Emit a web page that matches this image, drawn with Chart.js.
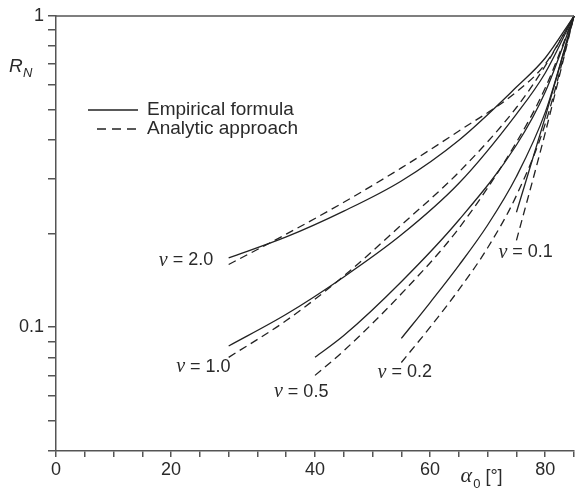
<!DOCTYPE html>
<html>
<head>
<meta charset="utf-8">
<script src="https://cdn.jsdelivr.net/npm/chart.js@4"></script>
<style>
  html, body { margin: 0; padding: 0; background: #fff; }
  canvas { display: block; }
</style>
</head>
<body>
<canvas id="myChart" width="576" height="488"></canvas>
<script>
// incidence angles (deg) per curve group
const alphaA = [30, 40, 50, 60, 70, 80, 85, 90];   // v = 2.0, v = 1.0
const alphaB = [45, 50, 60, 70, 80, 85, 90];       // v = 0.5
const alphaC = [60, 65, 70, 75, 80, 85, 90];       // v = 0.2
const alphaD = [80, 85, 90];                       // v = 0.1

// R_N, empirical formula (solid) and analytic approach (dashed)
const emp20 = [0.167, 0.195, 0.236, 0.295, 0.399, 0.591, 0.733, 1];
const ana20 = [0.159, 0.199, 0.252, 0.325, 0.427, 0.570, 0.701, 1];
const emp10 = [0.087, 0.110, 0.145, 0.198, 0.290, 0.484, 0.656, 1];
const ana10 = [0.080, 0.105, 0.146, 0.213, 0.315, 0.508, 0.691, 1];
const emp05 = [0.080, 0.094, 0.140, 0.221, 0.385, 0.570, 1];
const ana05 = [0.070, 0.084, 0.128, 0.208, 0.393, 0.587, 1];
const emp02 = [0.092, 0.120, 0.158, 0.213, 0.305, 0.490, 1];
const ana02 = [0.077, 0.100, 0.132, 0.180, 0.265, 0.450, 1];
const emp01 = [0.234, 0.473, 1];
const ana01 = [0.190, 0.421, 1];

// tick marks and labels
const yTicks = [0.04, 0.05, 0.06, 0.07, 0.08, 0.09, 0.1, 0.2, 0.3, 0.4, 0.5, 0.6, 0.7, 0.8, 0.9, 1];
const yLabelAt = [0.1, 1];
const yLabelText = ['0.1', '1'];
const xLabelAt = [0, 20, 45, 65, 85];
const xLabelText = ['0', '20', '40', '60', '80'];

// curve labels
const nuText = ['2.0', '1.0', '0.5', '0.2', '0.1'];
const nuAtX = [22.6, 25.6, 42.6, 60.6, 81.6];
const nuAtY = [0.164, 0.0744, 0.0618, 0.0716, 0.174];

const ink = '#222';
const axisColor = '#555';
const textColor = '#2a2a2a';
const sans = '"Liberation Sans", Arial, sans-serif';
const serif = '"Liberation Serif", "Times New Roman", serif';

function pts (xs, ys) {
  return xs.map((x, i) => ({x: x, y: ys[i]}));
}

function curve (xs, ys, dashed) {
  return {
    data: pts(xs, ys),
    borderColor: ink,
    borderWidth: 1.3,
    borderDash: dashed ? [8, 5] : [],
    pointRadius: 0,
    fill: false,
    cubicInterpolationMode: 'monotone',
    clip: false
  };
}

const overlay = {
  id: 'overlay',
  afterDraw (chart) {
    const {ctx, chartArea} = chart;
    const xs = chart.scales.x;
    const ys = chart.scales.y;
    ctx.save();

    // top frame line
    ctx.strokeStyle = axisColor;
    ctx.lineWidth = 1.5;
    ctx.beginPath();
    ctx.moveTo(chartArea.left, chartArea.top);
    ctx.lineTo(chartArea.right, chartArea.top);
    ctx.stroke();

    // legend
    ctx.strokeStyle = ink;
    ctx.lineWidth = 1.3;
    ctx.beginPath();
    ctx.moveTo(88, 110);
    ctx.lineTo(138, 110);
    ctx.stroke();
    ctx.setLineDash([9, 6]);
    ctx.beginPath();
    ctx.moveTo(97, 129);
    ctx.lineTo(142, 129);
    ctx.stroke();
    ctx.setLineDash([]);

    ctx.fillStyle = textColor;
    ctx.textBaseline = 'middle';
    ctx.textAlign = 'left';
    ctx.font = '19px ' + sans;
    ctx.fillText('Empirical formula', 147, 110);
    ctx.fillText('Analytic approach', 147, 129);

    // y axis title R_N
    ctx.textBaseline = 'alphabetic';
    ctx.font = 'italic 19px ' + sans;
    ctx.fillText('R', 9, 72);
    ctx.font = 'italic 13px ' + sans;
    ctx.fillText('N', 23, 77);

    // x axis title alpha_0 [deg]
    const ax = xs.getPixelForValue(70.3);
    ctx.font = 'italic 22px ' + serif;
    ctx.fillText('\u03b1', ax, 482);
    const w = ctx.measureText('\u03b1').width;
    ctx.font = '13px ' + sans;
    ctx.fillText('0', ax + w + 1, 488);
    const w2 = ctx.measureText('0').width;
    ctx.font = '18px ' + sans;
    ctx.fillText(' [\u00b0]', ax + w + w2 + 1, 482);

    // nu labels
    ctx.textBaseline = 'middle';
    for (let i = 0; i < nuText.length; i++) {
      const rest = ' = ' + nuText[i];
      ctx.font = 'italic 20px ' + serif;
      const wn = ctx.measureText('\u03bd').width;
      ctx.font = '18px ' + sans;
      const wr = ctx.measureText(rest).width;
      const cx = xs.getPixelForValue(nuAtX[i]);
      const cy = ys.getPixelForValue(nuAtY[i]);
      const left = cx - (wn + wr) / 2;
      ctx.font = 'italic 20px ' + serif;
      ctx.fillText('\u03bd', left, cy);
      ctx.font = '18px ' + sans;
      ctx.fillText(rest, left + wn, cy);
    }
    ctx.restore();
  }
};

new Chart(document.getElementById('myChart'), {
  type: 'line',
  data: {
    datasets: [
      curve(alphaA, emp20, false), curve(alphaA, ana20, true),
      curve(alphaA, emp10, false), curve(alphaA, ana10, true),
      curve(alphaB, emp05, false), curve(alphaB, ana05, true),
      curve(alphaC, emp02, false), curve(alphaC, ana02, true),
      curve(alphaD, emp01, false), curve(alphaD, ana01, true)
    ]
  },
  options: {
    responsive: false,
    animation: false,
    devicePixelRatio: 1,
    layout: { padding: { top: 16, right: 0, left: 0, bottom: 0 } },
    plugins: {
      legend: { display: false },
      tooltip: { enabled: false }
    },
    scales: {
      x: {
        type: 'linear',
        min: 0,
        max: 90,
        afterFit: (scale) => { scale.height = 37; },
        afterBuildTicks: (scale) => {
          const t = [];
          for (let v = 0; v <= 90; v += 5) t.push({value: v});
          scale.ticks = t;
        },
        border: { display: true, color: axisColor, width: 1.5 },
        grid: { drawOnChartArea: false, drawTicks: true, tickLength: 6, color: axisColor, lineWidth: 1.5 },
        ticks: {
          autoSkip: false,
          maxRotation: 0,
          padding: 2,
          color: textColor,
          font: { family: sans, size: 18 },
          callback: (value) => {
            const i = xLabelAt.indexOf(value);
            return i >= 0 ? xLabelText[i] : '';
          }
        }
      },
      y: {
        type: 'logarithmic',
        min: 0.04,
        max: 1,
        afterFit: (scale) => { scale.width = 56; },
        afterBuildTicks: (scale) => {
          scale.ticks = yTicks.map(v => ({value: v}));
        },
        border: { display: true, color: axisColor, width: 1.5 },
        grid: { drawOnChartArea: false, drawTicks: true, tickLength: 8, color: axisColor, lineWidth: 1.5 },
        ticks: {
          autoSkip: false,
          padding: 4,
          color: textColor,
          font: { family: sans, size: 18 },
          callback: (value) => {
            for (let i = 0; i < yLabelAt.length; i++) {
              if (Math.abs(value - yLabelAt[i]) < 1e-9) return yLabelText[i];
            }
            return '';
          }
        }
      }
    }
  },
  plugins: [overlay]
});
</script>
</body>
</html>
